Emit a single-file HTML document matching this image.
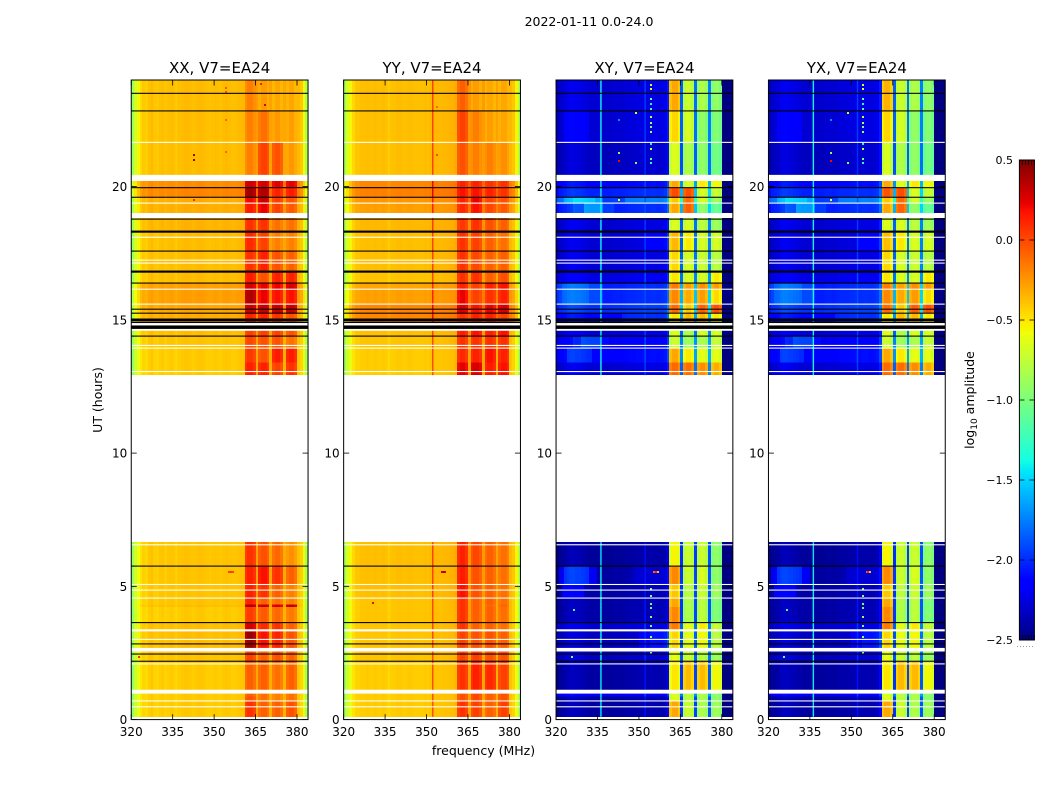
<!DOCTYPE html>
<html lang="en">
<head>
<meta charset="utf-8">
<title>2022-01-11 0.0-24.0</title>
<style>
html,body{margin:0;padding:0;background:#fff;width:1050px;height:800px;overflow:hidden}
svg{display:block}
text{font-family:"DejaVu Sans","Liberation Sans",sans-serif;fill:#000}
</style>
</head>
<body>
<svg id="figure" xmlns="http://www.w3.org/2000/svg" width="1050" height="800" viewBox="0 0 1050 800">
  <text x="589" y="26" font-size="12.5" text-anchor="middle">2022-01-11 0.0-24.0</text>
  <text x="0" y="0" font-size="12.5" text-anchor="middle" transform="translate(102 400) rotate(-90)">UT (hours)</text>
  <text x="483.5" y="755" font-size="12.5" text-anchor="middle">frequency (MHz)</text>
  <text x="0" y="0" font-size="12.5" text-anchor="middle" transform="translate(974 400) rotate(-90)">log<tspan font-size="9" dy="3">10</tspan><tspan dy="-3"> amplitude</tspan></text>
  <g id="panels"></g>
  <g id="colorbar"></g>
</svg>
<script>
// ---- axis labels ----
const panelTitles = ['XX, V7=EA24', 'YY, V7=EA24', 'XY, V7=EA24', 'YX, V7=EA24'];
const xTicks = [320, 335, 350, 365, 380];
const yTicks = [0, 5, 10, 15, 20];
const colorTicks = [-2.5, -2.0, -1.5, -1.0, -0.5, 0.0, 0.5];

// ---- time segments in UT hours (lower edge / upper edge) ----
const segmentStarts = [22.84,21.66,20.44,19.96,19.6,19.38,19.01,18.31,17.58,16.81,16.38,16.15,15.59,15.25,14.93,14.39,13.94,13.4,12.94,5.76,5.07,4.56,4.32,4.22,3.64,3.35,2.69,2.19,1.12,0.87,0.7,0.12];
const segmentEnds   = [24,22.84,21.66,20.21,19.96,19.6,19.38,18.83,18.31,17.58,16.81,16.38,16.15,15.59,15.25,14.66,14.39,13.94,13.4,6.66,5.76,5.07,4.56,4.32,4.22,3.64,3.35,2.56,2.19,0.975,0.87,0.7];

// ---- log10 amplitude per segment: [background, sub-band A, B, C, D] ----
const xxRows = [
[-.38,-.2,-.3,-.33,-.33],[-.38,-.2,-.15,-.28,-.3],[-.38,-.2,0,-.05,-.28],[-.22,.27,.25,.22,.22],[-.2,.38,.35,.1,.12],
[-.33,.18,.28,.02,-.05],[-.33,.12,.2,0,-.08],[-.35,.05,.05,-.15,-.15],[-.38,.08,0,-.2,-.2],[-.38,.05,.1,-.05,-.1],
[-.38,.12,-.05,.1,.1],[-.28,.25,.2,.2,.25],[-.28,.35,.2,.15,.15],[-.3,.3,.3,.3,.3],[-.33,.1,.1,.05,-.05],
[-.38,0,0,0,-.05],[-.4,-.02,-.05,-.05,-.15],[-.42,.03,-.05,.12,.12],[-.42,.1,.1,0,.05],[-.4,.05,-.05,-.12,-.25],
[-.4,.1,.15,.05,-.1],[-.4,.1,.05,-.1,-.2],[-.4,.1,-.1,-.15,-.2],[-.38,.35,.3,.25,.3],[-.42,.02,-.08,-.12,-.18],
[-.38,.25,.08,.05,-.1],[-.38,.4,.15,.1,-.05],[-.4,0,-.1,-.05,-.1],[-.42,-.1,-.1,-.15,-.1],[-.42,-.1,-.15,-.2,-.15],[-.42,-.05,-.15,-.2,-.15],
[-.42,.05,-.1,-.1,-.05]];
const yyRows = [
[-.38,-.1,-.3,-.33,-.33],[-.38,0,-.2,-.3,-.32],[-.38,-.05,-.2,-.2,-.25],[-.2,.1,.1,.05,.05],[-.18,.15,.15,.1,.05],
[-.25,.1,.2,0,-.05],[-.28,.08,.15,-.02,-.08],[-.36,.03,.05,-.05,-.1],[-.38,.05,0,-.1,-.15],[-.38,.05,-.02,-.1,-.1],
[-.4,.05,.05,-.1,-.05],[-.3,.1,0,.1,.15],[-.28,.2,0,.05,.1],[-.2,.25,.15,.2,.25],[-.2,.05,.1,.1,0],
[-.38,.12,.15,.1,.15],[-.4,.05,.05,.05,.05],[-.42,.08,.1,.15,.1],[-.42,.22,.25,.12,.15],[-.38,.1,-.02,-.1,-.15],
[-.38,.12,-.05,-.1,-.15],[-.38,.15,-.05,-.1,-.15],[-.4,.05,-.1,-.1,-.15],[-.4,.05,-.1,-.12,-.12],[-.4,.05,-.1,-.1,-.15],
[-.4,.05,-.1,-.1,-.15],[-.4,0,-.05,-.05,-.1],[-.4,0,0,-.05,-.05],[-.42,.05,.1,.08,0],[-.42,-.05,-.02,-.1,-.05],[-.42,-.05,-.02,-.1,-.05],
[-.42,.05,0,-.1,0]];
const xyRows = [
[-2.3,-.35,-.75,-.85,-.95],[-2.3,-.5,-.7,-.95,-1],[-2.35,-.7,-.85,-.95,-1.05],[-2.15,-.35,-.7,-.55,-.6],[-2.05,-.05,-.05,-.7,-.75],
[-1.8,-.45,-.15,-.7,-.9],[-2.05,-.35,-.1,-.95,-1.1],[-2.3,-.7,-.7,-.8,-.9],[-2.3,-.4,-.55,-.7,-.7],[-2.3,-.5,-.7,-.75,-.8],
[-2.25,-.55,-.7,-.7,-.55],[-2.05,-.2,-.3,-.25,-.3],[-2.05,-.25,-.35,-.3,-.5],[-2.0,-.15,-.45,-.1,-.05],[-2.15,-.55,-.4,-.4,-.55],
[-2.3,-.7,-.85,-.7,-.7],[-2.2,-.75,-.9,-.85,-.75],[-2.15,-.35,-.55,-.65,-.65],[-2.3,-.15,-.15,-.25,-.35],[-2.45,-.6,-.75,-.75,-.95],
[-2.42,-.25,-.75,-.7,-.95],[-2.42,-.45,-.8,-.75,-.9],[-2.42,-.35,-.85,-.8,-1],[-2.42,-.35,-.85,-.8,-1],[-2.42,-.25,-.85,-.8,-1],
[-2.3,-.2,-.65,-.55,-.75],[-2.35,-.5,-.65,-.6,-.8],[-2.35,-.65,-.75,-.8,-.9],[-2.43,-.55,-.4,-.4,-.6],[-2.2,-.7,-.8,-.85,-.95],[-2.43,-.7,-.8,-.85,-.95],
[-2.43,-.35,-.75,-.85,-.9]];
const yxRows = [
[-2.3,-.38,-.75,-.85,-.95],[-2.3,-.5,-.72,-.95,-1],[-2.35,-.72,-.85,-.95,-1.05],[-2.15,-.35,-.68,-.55,-.6],[-2.05,-.08,-.05,-.7,-.75],
[-1.8,-.45,-.15,-.72,-.9],[-2.05,-.35,-.12,-.95,-1.1],[-2.3,-.7,-.7,-.8,-.88],[-2.3,-.42,-.55,-.7,-.7],[-2.3,-.5,-.7,-.75,-.8],
[-2.25,-.55,-.7,-.7,-.55],[-2.05,-.2,-.32,-.25,-.3],[-2.05,-.25,-.35,-.3,-.5],[-2.0,-.15,-.45,-.1,-.05],[-2.15,-.55,-.4,-.4,-.55],
[-2.3,-.7,-.85,-.7,-.7],[-2.2,-.75,-.9,-.85,-.75],[-2.15,-.35,-.55,-.65,-.65],[-2.3,-.15,-.15,-.25,-.35],[-2.45,-.6,-.75,-.75,-.95],
[-2.42,-.25,-.75,-.7,-.95],[-2.42,-.45,-.8,-.75,-.9],[-2.42,-.35,-.85,-.8,-1],[-2.42,-.35,-.85,-.8,-1],[-2.42,-.25,-.85,-.8,-1],
[-2.3,-.2,-.65,-.55,-.75],[-2.35,-.5,-.65,-.6,-.8],[-2.35,-.65,-.75,-.8,-.9],[-2.43,-.55,-.4,-.4,-.6],[-2.2,-.7,-.8,-.85,-.95],[-2.43,-.7,-.8,-.85,-.95],
[-2.43,-.35,-.75,-.85,-.9]];

// ---- which row column each of the 64 1-MHz channels reads (0 background, 1-4 sub-bands) ----
const channelBand = [
0,0,0,0,0,0,0,0,0,0,0,0,0,0,0,0,0,0,0,0,0,0,0,0,0,0,0,0,0,0,0,0,
0,0,0,0,0,0,0,0,0,1,1,1,1,0,2,2,2,2,0,3,3,3,3,0,4,4,4,4,0,0,0,0];

// ---- per-channel bandpass offset, log10 ----
const xxBandpass = [
-.5,-.3,-.18,-.08,-.03,-.05,0,.02,-.02,-.03,0,.01,-.02,0,.01,0,0,0,.01,.02,.02,.01,0,.01,.02,.02,.01,0,-.01,0,.01,0,
-.01,.01,.02,.01,0,0,.01,.02,.02,-.02,.03,.03,-.03,.12,-.02,.03,.03,-.03,.1,-.02,.03,.03,-.03,.08,-.02,.03,.03,-.03,.02,-.03,-.2,-.42];
const yyBandpass = [
-.45,-.3,-.18,-.08,-.02,-.02,0,0,.01,0,0,.01,0,0,.01,0,-.02,0,0,.01,.01,0,0,.01,.01,0,0,0,0,.01,0,.02,
.03,.03,.02,.02,.03,.03,.04,.04,.06,-.02,.03,.03,-.03,.14,-.02,.03,.03,-.03,.12,-.02,.03,.03,-.03,.1,-.02,.03,.03,-.03,.03,-.02,-.18,-.4];
const xyBandpass = [
-.05,0,.02,.04,.08,.1,.1,.08,.08,.06,.05,.03,.02,.02,.02,.02,0,0,0,0,.01,.02,.02,.01,.02,.03,.04,.04,.04,.05,.05,.06,
.05,.05,.06,.06,.05,.05,.06,.08,.25,-.03,.05,.05,-.05,.45,-.03,.04,.04,-.05,.5,-.03,.04,.04,-.05,.55,-.03,.04,.04,-.05,-1,-1,-1,-1];
const yxBandpass = [
-.05,0,.02,.04,.08,.1,.1,.08,.08,.06,.05,.03,.02,.02,.02,.02,0,0,0,0,.01,.02,.02,.01,.02,.03,.04,.04,.04,.05,.05,.06,
.05,.05,.06,.06,.05,.05,.06,.08,.25,-.03,.05,.05,-.05,.45,-.03,.04,.04,-.05,.5,-.03,.04,.04,-.05,.55,-.03,.04,.04,-.05,-1,-1,-1,-1];

// ---- diffuse emission in the cross panels: [first channel, last channel, low hour, high hour, log10 boost] ----
const crossBlobs = [
[1,14,5.07,5.76,.2],[3,11,5.07,5.76,.2],[2,9,4.56,5.07,.2],
[3,15,19.38,19.6,.15],[6,13,19.38,19.6,.1],[17,24,19.38,19.6,-.15],
[10,16,19.01,19.38,.25],[6,20,19.01,19.38,.1],
[9,15,13.94,14.39,.15],[6,18,13.94,14.39,.1],[4,12,13.4,13.94,.12],
[0,16,15.59,16.38,.12],[2,11,15.59,16.38,.08],
[30,40,2.69,3.35,.12],[34,40,2.69,3.35,.1],[32,40,17.58,18.31,.1],
[3,11,21.66,22.84,.08],[24,40,14.93,15.25,.1],[28,40,5.07,5.76,.08]];

// ---- narrow single-channel lines: [frequency MHz, log10 boost, ceiling] ----
const xxNarrow = [[336,-.05,1]];
const yyNarrow = [[352,.42,1],[336,-.05,1]];
const xyNarrow = [[336,1,-1.4],[352,.35,-1.9]];
const yxNarrow = [[336,1,-1.4],[352,.35,-1.9]];

// ---- flagged integrations, UT hours [start, end] ----
const whiteFlags = [
[21.64,21.68],[20.21,20.44],[19.36,19.4],[18.83,19.01],[18.08,18.12],[17.22,17.26],[17.11,17.15],[16.13,16.17],[15.57,15.61],
[14.82,14.86],[14.59,14.66],[14.02,14.06],[13.92,13.96],[13.04,13.08],[6.54,6.58],[5.05,5.09],[4.84,4.88],[4.54,4.58],
[3.31,3.39],[2.99,3.03],[2.56,2.69],[2.07,2.11],[0.975,1.12],[0.68,0.72],[0.46,0.5]];
const blackFlags = [
[23.48,23.52],[22.82,22.86],[19.94,19.98],[19.58,19.62],[18.76,18.8],[18.27,18.35],[17.56,17.6],[16.77,16.85],[16.36,16.4],
[15.38,15.42],[15.23,15.27],[14.95,15.05],[14.88,14.93],[14.66,14.79],[14.37,14.41],[5.74,5.78],[3.62,3.66],[2.82,2.86],[2.44,2.48],[2.17,2.21]];

// ---- isolated hot pixels: [frequency MHz, hour, log10 amplitude] ----
const xxHotPixels = [[342.4,21.2,.4],[342.4,21.0,.4],[342.4,19.48,.1],[353.9,23.7,-.05],[353.9,23.55,-.05],[353.9,22.5,-.1],[353.9,21.3,-.1],[368.2,23.08,.25],[366.5,23.85,.15],[355.2,5.55,.02],[355.8,5.55,.05],[356.4,5.55,.02],[322.3,2.36,.1]];
const yyHotPixels = [[355.3,5.55,.3],[355.9,5.55,.45],[356.5,5.55,.3],[330.4,4.36,.2],[353.6,21.2,0],[353.6,23.0,-.1]];
const xyHotPixels = [[353.9,23.8,-.7],[353.9,23.65,-.6],[353.9,23.3,-1],[353.9,23.1,-1.3],[353.9,22.9,-1.2],[353.9,22.6,-.7],[353.9,22.4,-.8],[353.9,22.25,-1],[353.9,22.05,-.85],[353.9,21.6,-1.4],[353.9,21.4,-.7],[353.9,21.05,-1],[353.9,20.9,-1.3],[348.5,22.75,-.7],[348.5,20.9,-1],[342.4,22.5,-1.7],[342.4,21.25,-1],[342.4,20.95,.2],[342.4,19.48,-.6],[355.2,5.55,-.1],[355.8,5.55,.15],[356.4,5.55,-.4],[353.9,4.9,-1],[353.9,4.65,-1],[353.9,4.35,-1],[353.9,4.2,-1.1],[353.9,3.85,-.9],[353.9,3.5,-1],[353.9,3.1,-.9],[353.9,2.5,-1],[325.3,2.36,-1],[326.2,4.1,-1.2]];
const yxHotPixels = [[353.9,23.8,-.7],[353.9,23.65,-.6],[353.9,23.3,-1],[353.9,23.1,-1.3],[353.9,22.9,-1.2],[353.9,22.6,-.7],[353.9,22.4,-.8],[353.9,22.25,-1],[353.9,22.05,-.85],[353.9,21.6,-1.4],[353.9,21.4,-.7],[353.9,21.05,-1],[353.9,20.9,-1.3],[348.5,22.75,-.7],[348.5,20.9,-1],[342.4,22.5,-1.7],[342.4,21.25,-1],[342.4,20.95,.2],[342.4,19.48,-.6],[355.2,5.55,-.1],[355.8,5.55,.15],[356.4,5.55,-.4],[353.9,4.9,-1],[353.9,4.65,-1],[353.9,4.35,-1],[353.9,4.2,-1.1],[353.9,3.85,-.9],[353.9,3.5,-1],[353.9,3.1,-.9],[353.9,2.5,-1],[325.3,2.36,-1],[326.2,4.1,-1.2]];

const panelRows = [xxRows, yyRows, xyRows, yxRows];
const panelBandpass = [xxBandpass, yyBandpass, xyBandpass, yxBandpass];
const panelHotPixels = [xxHotPixels, yyHotPixels, xyHotPixels, yxHotPixels];
const panelNarrow = [xxNarrow, yyNarrow, xyNarrow, yxNarrow];

// ---- scales ----
const SVGNS = 'http://www.w3.org/2000/svg';
const AX_TOP = 80, AX_BOTTOM = 719.6, AX_WIDTH = 176.8;
const CB_LEFT = 1019.4, CB_WIDTH = 15, CB_TOP = 160, CB_BOTTOM = 640;
const panelLeft = i => 131.25 + i * 212.4;
const xScale = (i, mhz) => panelLeft(i) + (mhz - 320) / 64 * AX_WIDTH;
const yScale = h => AX_BOTTOM - h / 24 * (AX_BOTTOM - AX_TOP);
const cbScale = v => CB_BOTTOM - (v + 2.5) / 3 * (CB_BOTTOM - CB_TOP);

function jetPart(t, pts) {
  if (t <= pts[0][0]) return pts[0][1];
  for (let k = 1; k < pts.length; k++) {
    if (t <= pts[k][0]) {
      const a = pts[k - 1], b = pts[k];
      return a[1] + (t - a[0]) / (b[0] - a[0]) * (b[1] - a[1]);
    }
  }
  return pts[pts.length - 1][1];
}
function jet(v) {
  const t = Math.max(0, Math.min(1, (v + 2.5) / 3));
  const r = jetPart(t, [[0, 0], [.35, 0], [.66, 1], [.89, 1], [1, .5]]);
  const g = jetPart(t, [[0, 0], [.125, 0], [.375, 1], [.64, 1], [.91, 0], [1, 0]]);
  const b = jetPart(t, [[0, .5], [.11, 1], [.34, 1], [.65, 0], [1, 0]]);
  return 'rgb(' + Math.round(r * 255) + ',' + Math.round(g * 255) + ',' + Math.round(b * 255) + ')';
}
function svgEl(tag, parent, attrs) {
  const el = document.createElementNS(SVGNS, tag);
  for (const k in attrs) el.setAttribute(k, attrs[k]);
  parent.appendChild(el);
  return el;
}
function blobBoost(panel, c, s) {
  if (panel < 2) return 0;
  const mid = (segmentStarts[s] + segmentEnds[s]) / 2;
  let total = 0;
  crossBlobs.forEach(b => {
    if (c >= b[0] && c <= b[1] && mid >= b[2] && mid <= b[3]) total += b[4];
  });
  return total;
}

// ---- panels ----
const panelsGroup = document.getElementById('panels');
panelTitles.forEach((title, i) => {
  const left = panelLeft(i), right = left + AX_WIDTH;
  const g = svgEl('g', panelsGroup, {});
  
  

  const heat = svgEl('g', g, { 'shape-rendering': 'crispEdges' });
  
  

  const rows = panelRows[i], bandpass = panelBandpass[i];
  const cellLeft = c => Math.round(xScale(i, 320 + c));
  const cellW = c => Math.round(xScale(i, 321 + c)) - Math.round(xScale(i, 320 + c));
  segmentStarts.forEach((start, s) => {
    const top = yScale(segmentEnds[s]), bottom = yScale(start);
    bandpass.forEach((off, c) => {
      const cell = svgEl('rect', heat, {
        x: cellLeft(c), y: top.toFixed(2), width: cellW(c), height: (bottom - top + 0.4).toFixed(2),
        fill: jet(rows[s][channelBand[c]] + off + blobBoost(i, c, s))
      });
      
      
    });
    panelNarrow[i].forEach(n => {
      const strip = svgEl('rect', g, {
        x: xScale(i, n[0]).toFixed(2), y: top.toFixed(2), width: 1.4, height: (bottom - top + 0.4).toFixed(2),
        fill: jet(Math.min(rows[s][0] + n[1], n[2]))
      });
      
      
    });
  });
  panelHotPixels[i].forEach(p => {
    const dot = svgEl('rect', g, {
      x: Math.round(xScale(i, p[0])), y: Math.round(yScale(p[1]) - 1), width: 2, height: 2, fill: jet(p[2])
    });
    
    
  });

  whiteFlags.forEach(f => {
    const band = svgEl('rect', g, {
      x: left, y: yScale(f[1]).toFixed(2), width: AX_WIDTH, height: (yScale(f[0]) - yScale(f[1])).toFixed(2), fill: '#fff'
    });
    
    
  });
  blackFlags.forEach(f => {
    const band = svgEl('rect', g, {
      x: left, y: yScale(f[1]).toFixed(2), width: AX_WIDTH, height: (yScale(f[0]) - yScale(f[1])).toFixed(2), fill: '#000'
    });
    
    
  });

  const frame = svgEl('rect', g, {
    x: left, y: AX_TOP, width: AX_WIDTH, height: AX_BOTTOM - AX_TOP, fill: 'none', stroke: '#000', 'stroke-width': 1
  });
  
  

  xTicks.forEach(t => {
    const x = xScale(i, t);
    const tb = svgEl('line', g, { x1: x, x2: x, y1: AX_BOTTOM, y2: AX_BOTTOM - 5.5, stroke: '#000', 'stroke-width': .8 });
    
    
    const tt = svgEl('line', g, { x1: x, x2: x, y1: AX_TOP, y2: AX_TOP + 5.5, stroke: '#000', 'stroke-width': .8 });
    
    
    const lab = svgEl('text', g, { x: x, y: 736, 'font-size': 12, 'text-anchor': 'middle' });
    lab.textContent = String(t);
    
    
  });
  yTicks.forEach(t => {
    const y = yScale(t);
    const tl = svgEl('line', g, { x1: left, x2: left + 5.5, y1: y, y2: y, stroke: '#000', 'stroke-width': .8 });
    
    
    const tr = svgEl('line', g, { x1: right, x2: right - 5.5, y1: y, y2: y, stroke: '#000', 'stroke-width': .8 });
    
    
    const lab = svgEl('text', g, { x: left - 4, y: y + 4.5, 'font-size': 12, 'text-anchor': 'end' });
    lab.textContent = String(t);
    
    
  });

  const ttl = svgEl('text', g, { x: left + AX_WIDTH / 2, y: 73, 'font-size': 15, 'text-anchor': 'middle' });
  ttl.textContent = title;
  
  
});

// ---- colorbar ----
const cb = document.getElementById('colorbar');
const ramp = svgEl('g', cb, { 'shape-rendering': 'crispEdges' });


for (let p = CB_TOP; p < CB_BOTTOM; p += 2) {
  const v = 0.5 - (p + 1 - CB_TOP) / (CB_BOTTOM - CB_TOP) * 3;
  const strip = svgEl('rect', ramp, { x: CB_LEFT, y: p, width: CB_WIDTH, height: 2.2, fill: jet(v) });
  
  
}
const cbFrame = svgEl('rect', cb, { x: CB_LEFT, y: CB_TOP, width: CB_WIDTH, height: CB_BOTTOM - CB_TOP, fill: 'none', stroke: '#000', 'stroke-width': 1 });


colorTicks.forEach(v => {
  const y = cbScale(v);
  const a = svgEl('line', cb, { x1: CB_LEFT, x2: CB_LEFT + 5, y1: y, y2: y, stroke: '#000', 'stroke-width': .8 });
  
  
  const b = svgEl('line', cb, { x1: CB_LEFT + CB_WIDTH, x2: CB_LEFT + CB_WIDTH - 5, y1: y, y2: y, stroke: '#000', 'stroke-width': .8 });
  
  
  const lab = svgEl('text', cb, { x: 1013, y: y + 4, 'font-size': 11, 'text-anchor': 'end' });
  lab.textContent = v.toFixed(1).replace('-', '\u2212');
  
  
});
for (let k = 0; k <= 5; k++) {
  const x = CB_LEFT + k * CB_WIDTH / 5;
  const t1 = svgEl('line', cb, { x1: x, x2: x, y1: CB_TOP, y2: CB_TOP + 5, stroke: '#000', 'stroke-width': .7 });
  
  
  const t2 = svgEl('line', cb, { x1: x, x2: x, y1: CB_BOTTOM, y2: CB_BOTTOM - 5, stroke: '#000', 'stroke-width': .7 });
  
  
  const d = svgEl('rect', cb, { x: x - 2.4, y: 646, width: 1, height: 1, fill: '#999' });
  
  
}
</script>
</body>
</html>
